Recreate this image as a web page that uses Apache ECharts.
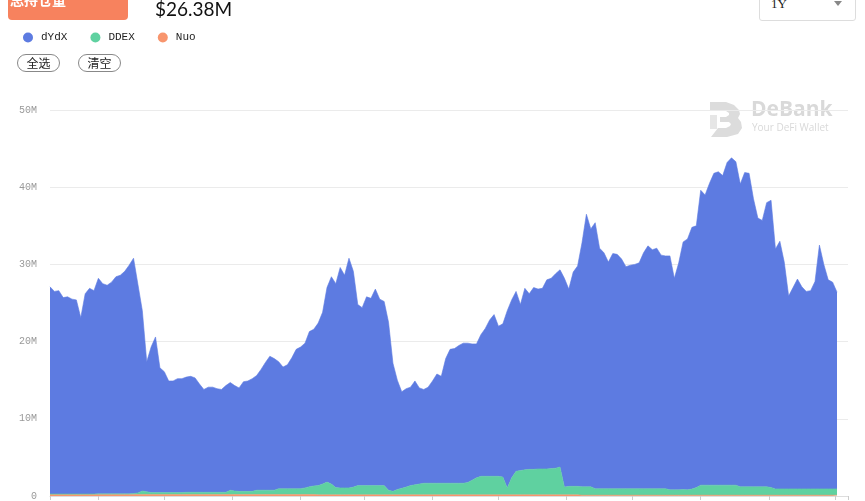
<!DOCTYPE html>
<html>
<head>
<meta charset="utf-8">
<script src="https://cdn.jsdelivr.net/npm/echarts@6/dist/echarts.min.js"></script>
<style>
  html, body { margin: 0; padding: 0; background: #fff; overflow: hidden; }
  #wrap { position: relative; width: 865px; height: 501px; overflow: hidden; }
  #chart { position: absolute; left: 0; top: 0; width: 865px; height: 501px; }
  .abs { position: absolute; }
  #btn { left: 8px; top: -10px; width: 120px; height: 30px; background: #f7825e; border-radius: 4px; }
  #btnText { left: 10px; top: -11px; color: #fff; font: bold 14px "Noto Sans CJK SC", sans-serif; line-height: 20px; }
  #btnArrow { left: 106px; top: -6px; width: 0; height: 0; border-left: 5px solid transparent; border-right: 5px solid transparent; border-top: 6px solid #fff; }
  #total { left: 155px; top: -4px; font: 19px Lato, "Open Sans", sans-serif; color: #111; line-height: 26px; }
  .pill { top: 54px; height: 16px; width: 41px; border: 1px solid #888; border-radius: 9px; font: 12px "Noto Sans CJK SC", sans-serif; line-height: 16px; text-align: center; color: #222; }
  #sel { left: 759px; top: -10px; width: 95px; height: 29px; border: 1px solid #ddd; border-radius: 3px; background: #fff; }
  #selText { left: 771px; top: -5px; font: 13px "Liberation Serif", serif; color: #222; line-height: 18px; }
  #selArrow { left: 834px; top: 1px; width: 0; height: 0; border-left: 4px solid transparent; border-right: 4px solid transparent; border-top: 5px solid #888; }
</style>
</head>
<body>
<div id="wrap">
  <div id="chart"></div>
  <div id="btn" class="abs"></div>
  <div id="btnText" class="abs">总持仓量</div>
  <div id="btnArrow" class="abs"></div>
  <div id="total" class="abs">$26.38M</div>
  <div class="abs pill" style="left:17px;">全选</div>
  <div class="abs pill" style="left:78px;">清空</div>
  <div id="sel" class="abs"></div>
  <div id="selText" class="abs">1Y</div>
  <div id="selArrow" class="abs"></div>
</div>
<script>
// ---- data (values in millions USD), one value every 2 days from startDate ----
const startDate = '2019-10-10';
const stepDays = 2;
const axisMaxDate = '2020-10-07';
const seriesNames = ['dYdX', 'DDEX', 'Nuo'];
const yTicks = [0, 10, 20, 30, 40, 50];

const dydx = [
  26.85,26.25,26.35,25.45,25.55,25.25,25.15,22.85,25.95,26.65,
  26.35,27.92,27.22,27.02,27.42,28.12,28.32,28.82,29.62,30.48,
  27.0,23.35,16.85,18.85,20.15,16.15,15.65,14.45,14.45,14.75,
  14.75,14.92,15.02,14.82,14.02,13.32,13.62,13.62,13.42,13.32,
  13.82,13.95,13.65,13.4,14.2,14.3,14.6,14.85,15.65,16.55,
  17.35,17.05,16.45,15.75,16.05,16.95,18.05,18.35,18.75,20.1,
  20.3,21.05,22.25,25.2,26.85,26.4,28.55,27.55,29.75,27.95,
  23.45,23.05,24.45,24.25,25.45,24.15,23.85,21.75,16.6,14.15,
  12.5,12.75,12.75,13.45,12.45,12.15,12.45,13.25,14.15,13.85,
  16.15,17.35,17.45,17.85,18.15,18.05,17.65,17.35,18.35,19.15,
  20.25,20.95,19.45,19.85,22.95,23.05,23.3,21.5,23.5,22.75,
  23.55,23.3,23.4,24.5,24.65,25.2,25.55,27.05,25.55,27.75,
  28.55,31.6,35.3,33.4,34.45,31.15,30.55,29.35,30.45,30.35,
  29.75,28.75,28.95,29.05,29.25,30.55,31.45,30.95,31.15,30.25,
  30.15,30.3,27.4,29.4,32.05,32.5,33.9,33.9,38.2,37.6,
  39.1,40.4,40.6,40.1,41.8,42.4,41.9,39.2,40.7,40.6,
  37.3,34.8,34.5,36.8,37.2,31.08,32.08,29.38,24.98,26.08,
  27.18,26.18,25.58,25.68,26.88,31.58,29.08,27.08,26.78,25.48
];
const ddex = [
  0.05,0.05,0.05,0.05,0.05,0.05,0.05,0.05,0.05,0.05,
  0.05,0.08,0.08,0.08,0.08,0.08,0.08,0.08,0.08,0.12,
  0.2,0.45,0.35,0.25,0.25,0.25,0.25,0.25,0.25,0.25,
  0.25,0.28,0.28,0.28,0.28,0.28,0.28,0.28,0.28,0.28,
  0.28,0.55,0.45,0.4,0.4,0.4,0.4,0.55,0.55,0.55,
  0.55,0.55,0.75,0.75,0.75,0.75,0.75,0.75,0.85,1.0,
  1.1,1.2,1.4,1.65,1.4,0.95,0.9,0.9,0.9,1.0,
  1.2,1.2,1.2,1.2,1.2,1.2,1.2,0.6,0.45,0.7,
  0.85,1.0,1.2,1.3,1.4,1.5,1.5,1.5,1.5,1.5,
  1.5,1.5,1.5,1.5,1.5,1.6,1.9,2.2,2.4,2.4,
  2.4,2.4,2.4,2.3,0.9,2.2,3.05,3.15,3.25,3.3,
  3.3,3.35,3.35,3.35,3.4,3.45,3.6,1.0,1.1,1.1,
  1.1,1.1,1.1,1.1,0.85,0.85,0.85,0.85,0.85,0.85,
  0.85,0.85,0.85,0.85,0.85,0.85,0.85,0.85,0.85,0.85,
  0.85,0.7,0.7,0.7,0.75,0.7,0.8,1.0,1.3,1.3,
  1.3,1.3,1.3,1.3,1.3,1.3,1.3,1.1,1.1,1.1,
  1.1,1.1,1.1,1.1,1.0,0.82,0.82,0.82,0.82,0.82,
  0.82,0.82,0.82,0.82,0.82,0.82,0.82,0.82,0.82,0.82
];
const nuo = [
  0.2,0.2,0.2,0.2,0.2,0.2,0.2,0.2,0.2,0.2,
  0.2,0.2,0.2,0.2,0.2,0.2,0.2,0.2,0.2,0.2,
  0.2,0.2,0.2,0.2,0.2,0.2,0.2,0.2,0.2,0.2,
  0.2,0.2,0.2,0.2,0.2,0.2,0.2,0.2,0.2,0.2,
  0.2,0.2,0.2,0.2,0.2,0.2,0.2,0.2,0.2,0.2,
  0.2,0.2,0.2,0.2,0.2,0.2,0.2,0.2,0.2,0.2,
  0.2,0.15,0.15,0.15,0.15,0.15,0.15,0.15,0.15,0.15,
  0.15,0.15,0.15,0.15,0.15,0.15,0.15,0.15,0.15,0.15,
  0.15,0.15,0.15,0.15,0.15,0.15,0.15,0.15,0.15,0.15,
  0.15,0.15,0.15,0.15,0.15,0.15,0.15,0.15,0.15,0.15,
  0.15,0.15,0.15,0.15,0.15,0.15,0.15,0.15,0.15,0.15,
  0.15,0.15,0.15,0.15,0.15,0.15,0.15,0.15,0.15,0.15,
  0.15,0.1,0.1,0.1,0.1,0.1,0.1,0.1,0.1,0.1,
  0.1,0.1,0.1,0.1,0.1,0.1,0.1,0.1,0.1,0.1,
  0.1,0.1,0.1,0.1,0.1,0.1,0.1,0.1,0.1,0.1,
  0.1,0.1,0.1,0.1,0.1,0.1,0.1,0.1,0.1,0.1,
  0.1,0.1,0.1,0.1,0.1,0.1,0.1,0.1,0.1,0.1,
  0.1,0.1,0.1,0.1,0.1,0.1,0.1,0.1,0.1,0.1
];

// ---- build date categories ----
const DAY = 86400000;
const t0 = Date.parse(startDate + 'T00:00:00Z');
const dates = dydx.map((_, i) => t0 + i * stepDays * DAY);
const pair = arr => arr.map((v, i) => [dates[i], v]);

const colors = { dYdX: '#5d7be1', DDEX: '#5fd1a0', Nuo: '#f8956d' };

const chart = echarts.init(document.getElementById('chart'), null, { renderer: 'canvas' });

function mkSeries(name, arr) {
  return {
    name, type: 'line', stack: 'total', data: pair(arr),
    symbol: 'none', showSymbol: false, smooth: false,
    lineStyle: { width: 0.6, color: colors[name] },
    itemStyle: { color: colors[name] },
    areaStyle: { color: colors[name], opacity: 1 },
    emphasis: { disabled: true }
  };
}

chart.setOption({
  animation: false,
  color: [colors.dYdX, colors.DDEX, colors.Nuo],
  legend: {
    data: seriesNames.map(n => ({ name: n, icon: 'circle' })),
    left: 18, top: 27,
    itemWidth: 10, itemHeight: 10, itemGap: 23,
    textStyle: { fontFamily: 'Liberation Mono', fontSize: 11, color: '#222', padding: [0, 0, 0, 3] },
    selectedMode: false
  },
  grid: { left: 50, right: 17, top: 110, bottom: 4, containLabel: false },
  xAxis: {
    type: 'time',
    min: t0,
    max: Date.parse(axisMaxDate + 'T00:00:00Z'),
    splitNumber: 12,
    axisLine: { show: true, lineStyle: { color: '#ddd', width: 1 } },
    axisTick: { show: true, length: 4, lineStyle: { color: '#ccc' } },
    axisLabel: { show: false },
    splitLine: { show: false }
  },
  yAxis: {
    type: 'value',
    min: yTicks[0], max: yTicks[yTicks.length - 1], interval: yTicks[1] - yTicks[0],
    axisLine: { show: false },
    axisTick: { show: false },
    axisLabel: {
      formatter: v => (v === 0 ? '0' : v + 'M'),
      fontFamily: 'Liberation Mono', fontSize: 10, color: '#999', margin: 13
    },
    splitLine: { lineStyle: { color: '#ebebeb', width: 1 } }
  },
  graphic: [
    { type: 'polygon', silent: true, z: 0, x: 710, y: 102,
      shape: { points: [[0,0],[16,0],[24,3],[29,8],[30,12],[28,16],[31,20],[32,26],[28,32],[17,35],[1,35],[8,26],[16,26],[20,24],[21,22],[19,20],[10,20],[10,15],[16,15],[19,13],[19,11],[16,9],[0,9]] },
      style: { fill: '#dcdcdc' } },
    { type: 'rect', silent: true, z: 0, x: 710, y: 102, shape: { x: 0, y: 13, width: 7, height: 14 }, style: { fill: '#e6e6e6' } },
    { type: 'text', left: 751, top: 100, z: 0, silent: true,
      style: { text: 'DeBank', fill: '#d9d9d9', font: 'bold 21px "Open Sans", sans-serif' } },
    { type: 'text', left: 752, top: 123, z: 0, silent: true,
      style: { text: 'Your DeFi Wallet', fill: '#d9d9d9', font: '10px "Open Sans", sans-serif' } }
  ],
  series: [
    mkSeries('Nuo', nuo),
    mkSeries('DDEX', ddex),
    mkSeries('dYdX', dydx)
  ]
});
</script>
</body>
</html>
